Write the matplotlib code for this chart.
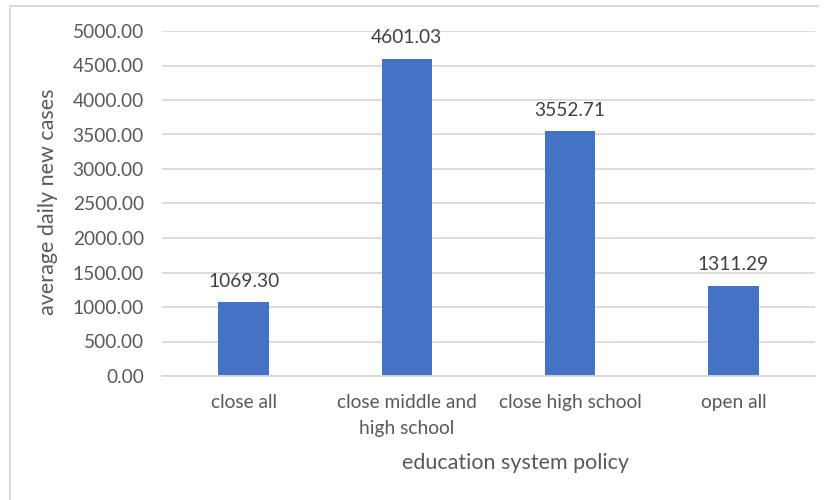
import matplotlib
matplotlib.use("Agg")
import matplotlib.pyplot as plt
from matplotlib.lines import Line2D

categories = ["close all", "close middle and\nhigh school", "close high school", "open all"]
values = [1069.30, 4601.03, 3552.71, 1311.29]
y_ticks = [0, 500, 1000, 1500, 2000, 2500, 3000, 3500, 4000, 4500, 5000]

W, H = 829, 500
fig = plt.figure(figsize=(W / 100, H / 100), dpi=100)
plt.rcParams["font.family"] = ["Lato", "DejaVu Sans"]

# chart frame (top and left edges)
frame = dict(transform=fig.transFigure, color="#d9d9d9", linewidth=1.5)
fig.lines.append(Line2D([10 / W, 818 / W], [1 - 6 / H, 1 - 6 / H], **frame))
fig.lines.append(Line2D([10 / W, 10 / W], [0, 1 - 6 / H], **frame))

left, right = 162 / W, 815 / W
bottom, top = 1 - 376 / H, 1 - 31 / H
ax = fig.add_axes([left, bottom, right - left, top - bottom])

text_color = "#595959"
x = range(len(categories))
ax.bar(x, values, width=0.31, color="#4472C4", zorder=3)
ax.set_xlim(-0.5, len(categories) - 0.5)
ax.set_ylim(0, 5000)
ax.set_yticks(y_ticks)
ax.set_yticklabels([f"{v:.2f}" for v in y_ticks], color=text_color, fontsize=13.8)
ax.set_xticks(list(x))
ax.set_xticklabels(categories, color=text_color, fontsize=13.8, linespacing=1.65,
                   va="top")
ax.tick_params(axis="y", length=0, pad=13)
ax.tick_params(axis="x", length=0, pad=13)
ax.grid(axis="y", color="#d9d9d9", linewidth=1.3, zorder=0)
for s in ["top", "right", "left"]:
    ax.spines[s].set_visible(False)
ax.spines["bottom"].set_color("#d9d9d9")
ax.spines["bottom"].set_linewidth(1.3)
ax.spines["bottom"].set_zorder(4)

for xi, v in zip(x, values):
    ax.annotate(f"{v:.2f}", (xi, v), xytext=(0, 15), textcoords="offset points",
                ha="center", va="center", color="#404040", fontsize=13.8)

fig.text(48 / W, 1 - 202 / H, "average daily new cases", color=text_color,
         fontsize=15.5, rotation=90, ha="center", va="center")
fig.text(516 / W, 1 - 463 / H, "education system policy", color=text_color,
         fontsize=15.5, ha="center", va="center")

fig.savefig("out.png", dpi=100)
